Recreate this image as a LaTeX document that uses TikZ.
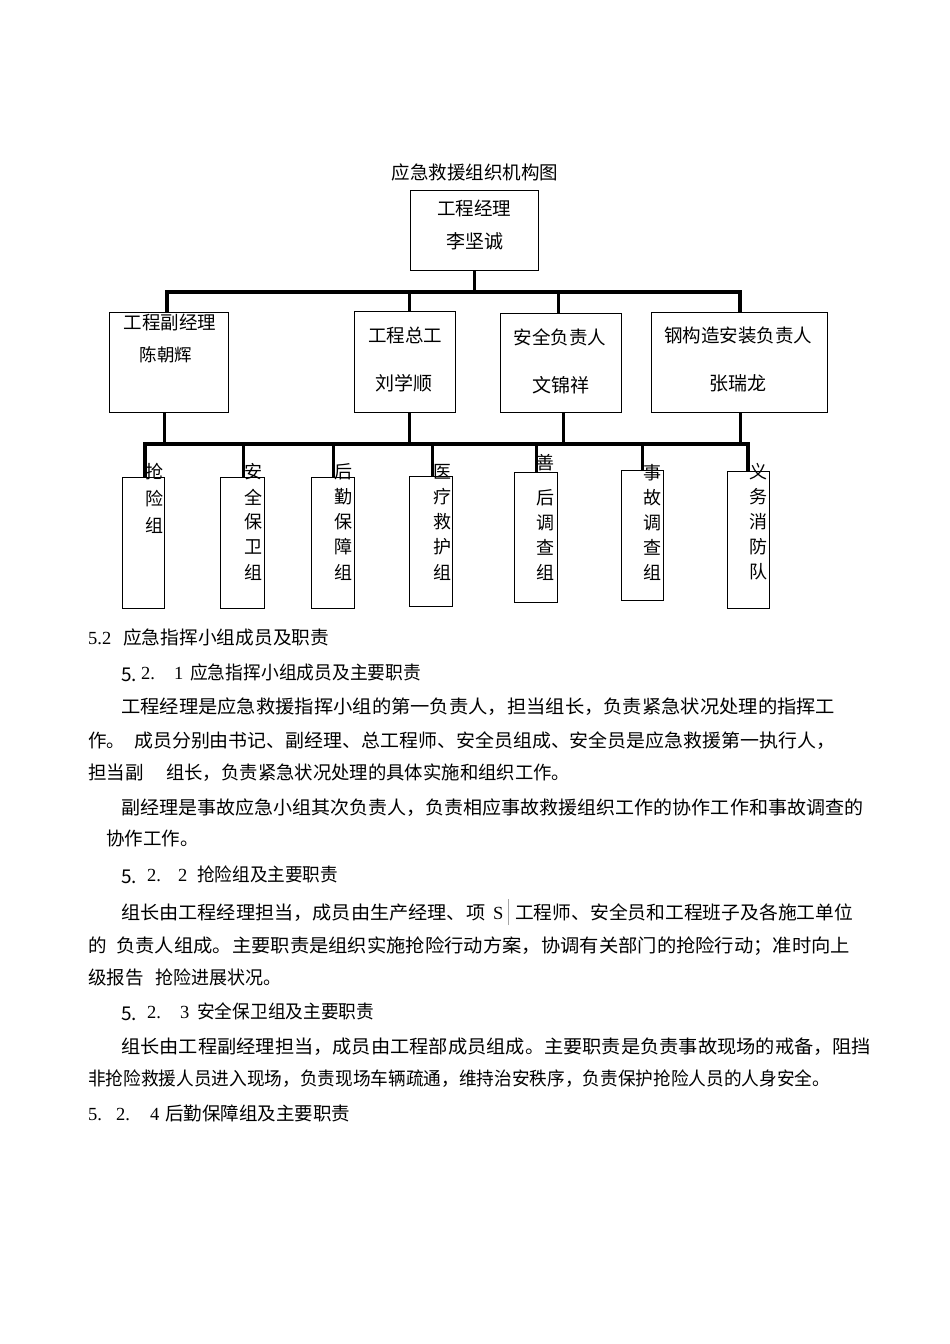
\documentclass[tikz,border=0pt]{standalone}
\usepackage{fontspec}
\usepackage{graphicx}
\setmainfont{Noto Sans CJK SC}
\newfontfamily\numfont{Liberation Serif}
\newcommand\hfit[2]{\resizebox{#1pt}{\height}{#2}}
\newcommand\pc[2]{\makebox[#1pt][l]{#2}}
\newcommand\fivedot{{\fontsize{19}{20}\selectfont\raisebox{-2pt}{5.}}}
\begin{document}
\begin{tikzpicture}[x=1pt,y=-1pt,
  box/.style={draw,line width=1pt,inner sep=0pt},
  bus/.style={line width=3.4pt,line join=miter},
  drop/.style={line width=3pt},
  lbl/.style={inner sep=0pt,font=\fontsize{18.5}{20}\selectfont},
  pname/.style={inner sep=0pt,font=\fontsize{19}{20}\selectfont},
  gch/.style={inner sep=0pt,font=\fontsize{18}{20}\selectfont},
  para/.style={anchor=west,inner sep=0pt,font=\fontsize{18.5}{20}\selectfont}]
\fill[white] (0,0) rectangle (950,1344);
\useasboundingbox (0,0) rectangle (950,1344);

% title
\node[lbl] (title) at (475,172) {应急救援组织机构图};

% top box
\node[box,minimum width=128pt,minimum height=80pt] (top) at (474,230) {};
\node[lbl] (t1) at (474,208) {工程经理};
\node[pname] (t2) at (475,241) {李坚诚};

% second row boxes
\node[box,minimum width=119pt,minimum height=100pt] (A) at (168.5,362) {};
\node[box,minimum width=101pt,minimum height=101pt] (B) at (404.5,361.5) {};
\node[box,minimum width=121pt,minimum height=99pt] (C) at (560.5,362.5) {};
\node[box,minimum width=176pt,minimum height=100pt] (D) at (739,362) {};

\node[lbl] (a1) at (170,322) {工程副经理};
\node[pname,font=\fontsize{17.5}{20}\selectfont] (a2) at (166,355) {陈朝辉};
\node[lbl] (b1) at (405,335) {工程总工};
\node[pname] (b2) at (404,383) {刘学顺};
\node[lbl] (c1) at (560,337) {安全负责人};
\node[pname] (c2) at (561,385) {文锦祥};
\node[lbl] (d1) at (738,335) {钢构造安装负责人};
\node[pname] (d2) at (738,383) {张瑞龙};

% upper bus
\coordinate (j0) at (474,292);
\coordinate (jA) at (167,292);
\coordinate (jB) at (409,292);
\coordinate (jC) at (558,292);
\coordinate (jD) at (740,292);
\draw[drop] (top.south) -- (j0);
\draw[bus] (jA |- A.north) -- (jA) -- (jD) -- (jD |- D.north);
\draw[drop] (jB) -- (jB |- B.north);
\draw[drop] (jC) -- (jC |- C.north);

% group boxes
\node[box,minimum width=42pt,minimum height=131pt] (G1) at (143,542.5) {};
\node[box,minimum width=44pt,minimum height=131pt] (G2) at (242,542.5) {};
\node[box,minimum width=43pt,minimum height=131pt] (G3) at (332.5,542.5) {};
\node[box,minimum width=43pt,minimum height=130pt] (G4) at (430.5,541) {};
\node[box,minimum width=43pt,minimum height=130pt] (G5) at (535.5,537) {};
\node[box,minimum width=42pt,minimum height=130pt] (G6) at (642,535) {};
\node[box,minimum width=42pt,minimum height=137pt] (G7) at (748,539.5) {};

% lower bus
\coordinate (kA) at (164,444);
\coordinate (kB) at (409,444);
\coordinate (kC) at (563,444);
\coordinate (kD) at (740,444);
\coordinate (m1) at (145,444);
\coordinate (m2) at (243,444);
\coordinate (m3) at (333,444);
\coordinate (m4) at (432,444);
\coordinate (m5) at (536,444);
\coordinate (m6) at (642,444);
\coordinate (m7) at (748,444);
\draw[drop] (kA |- A.south) -- (kA);
\draw[drop] (kB |- B.south) -- (kB);
\draw[drop] (kC |- C.south) -- (kC);
\draw[drop] (kD |- D.south) -- (kD);
\draw[bus] (m1 |- G1.north) -- (m1) -- (m7) -- (m7 |- G7.north);
\draw[drop] (m2) -- (m2 |- G2.north);
\draw[drop] (m3) -- (m3 |- G3.north);
\draw[drop] (m4) -- (m4 |- G4.north);
\draw[drop] (m5) -- (m5 |- G5.north);
\draw[drop] (m6) -- (m6 |- G6.north);

% group labels (vertical)
\foreach [count=\k] \c in {抢,险,组} \node[gch] (ga\k) at (154,{472+26.5*(\k-1)}) {\c};
\foreach [count=\k] \c in {安,全,保,卫,组} \node[gch] (gb\k) at (253,{472+25*(\k-1)}) {\c};
\foreach [count=\k] \c in {后,勤,保,障,组} \node[gch] (gc\k) at (343,{472+25*(\k-1)}) {\c};
\foreach [count=\k] \c in {医,疗,救,护,组} \node[gch] (gd\k) at (442,{472+25*(\k-1)}) {\c};
\node[gch] (ge0) at (545,463) {善};
\foreach [count=\k] \c in {后,调,查,组} \node[gch] (ge\k) at (545,{498+24.7*(\k-1)}) {\c};
\foreach [count=\k] \c in {事,故,调,查,组} \node[gch] (gf\k) at (652,{473+24.8*(\k-1)}) {\c};
\foreach [count=\k] \c in {义,务,消,防,队} \node[gch] (gg\k) at (758,{472+25*(\k-1)}) {\c};

% body text
\node[para] (p1) at (88,637) {\pc{35}{\numfont 5.2}\hfit{206}{应急指挥小组成员及职责}};
\node[para] (p2) at (121,673) {\pc{20}{\fivedot}\pc{33}{\numfont 2.}\pc{16}{\numfont 1}\hfit{231}{应急指挥小组成员及主要职责}};
\node[para] (p3) at (121,707) {\hfit{714}{工程经理是应急救援指挥小组的第一负责人，担当组长，负责紧急状况处理的指挥工}};
\node[para] (p4) at (88,741) {\pc{46}{作。}\hfit{701}{成员分别由书记、副经理、总工程师、安全员组成、安全员是应急救援第一执行人，}};
\node[para] (p5) at (88,773) {\pc{78}{担当副}\hfit{404}{组长，负责紧急状况处理的具体实施和组织工作。}};
\node[para] (p6) at (121,808) {\hfit{742}{副经理是事故应急小组其次负责人，负责相应事故救援组织工作的协作工作和事故调查的}};
\node[para] (p7) at (106,838) {协作工作。};
\node[para] (p8) at (121,875) {\pc{26}{\fivedot}\pc{31}{\numfont 2.}\pc{19}{\numfont 2}\hfit{141}{抢险组及主要职责}};
\node[para] (p9) at (121,912) {\hfit{364}{组长由工程经理担当，成员由生产经理、项}\pc{30}{\hspace{8pt}{\numfont S}\hspace{5pt}\textcolor{black!35}{\rule[-6pt]{0.6pt}{26pt}}}\hfit{338}{工程师、安全员和工程班子及各施工单位}};
\node[para] (p10) at (88,946) {\pc{28}{的}\hfit{734}{负责人组成。主要职责是组织实施抢险行动方案，协调有关部门的抢险行动；准时向上}};
\node[para] (p11) at (88,977) {\pc{67}{级报告}\hfit{126}{抢险进展状况。}};
\node[para] (p12) at (121,1012) {\pc{26}{\fivedot}\pc{33}{\numfont 2.}\pc{17}{\numfont 3}\hfit{177}{安全保卫组及主要职责}};
\node[para] (p13) at (121,1047) {\hfit{750}{组长由工程副经理担当，成员由工程部成员组成。主要职责是负责事故现场的戒备，阻挡}};
\node[para] (p14) at (88,1079) {\hfit{742}{非抢险救援人员进入现场，负责现场车辆疏通，维持治安秩序，负责保护抢险人员的人身安全。}};
\node[para] (p15) at (88,1113) {\pc{28}{\numfont 5.}\pc{34}{\numfont 2.}\pc{15}{\numfont 4}\hfit{185}{后勤保障组及主要职责}};
\end{tikzpicture}
\end{document}
